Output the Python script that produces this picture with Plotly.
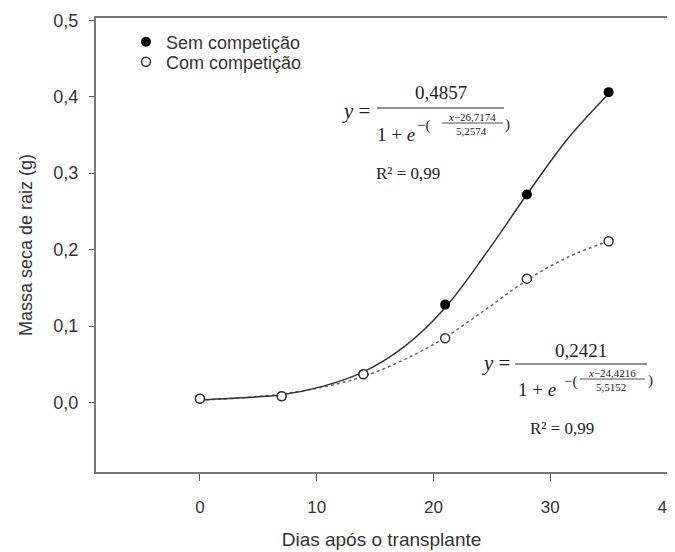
import plotly.graph_objects as go

# observed points (days after transplant, root dry mass g)
dias = [0, 7, 14, 21, 28, 35]
sem_comp = [0.005, 0.008, 0.037, 0.128, 0.272, 0.406]
com_comp = [0.005, 0.008, 0.037, 0.084, 0.162, 0.211]

# fitted curves
curva_x = [0, 3.5, 7, 10.5, 14, 17.5, 21, 24.5, 28, 31.5, 35]
curva_sem = [0.003, 0.006, 0.010, 0.021, 0.040, 0.073, 0.124, 0.195, 0.272, 0.345, 0.404]
curva_com = [0.003, 0.006, 0.011, 0.020, 0.034, 0.056, 0.085, 0.122, 0.160, 0.190, 0.211]

x_ticks = [0, 10, 20, 30, 40]
y_ticks = [0, 0.1, 0.2, 0.3, 0.4, 0.5]

# page has an 8px body margin, so the figure is drawn 8px smaller
OFF = 8
W, H = 675 - OFF, 552 - OFF
L, R, T, B = 96, 667, 18, 472   # plot area in page pixels


def px(x):
    return (x - L) / (R - L)


def py(y):
    return (B - y) / (B - T)


fig = go.Figure()

fig.add_trace(go.Scatter(x=curva_x, y=curva_com, mode="lines", line_shape="spline",
                         line=dict(color="#666", width=1.5, dash="dot"), showlegend=False))
fig.add_trace(go.Scatter(x=curva_x, y=curva_sem, mode="lines", line_shape="spline",
                         line=dict(color="#333", width=1.5), showlegend=False))
fig.add_trace(go.Scatter(x=dias, y=sem_comp, mode="markers", name="Sem competição",
                         marker=dict(color="black", size=10), legend="legend"))
fig.add_trace(go.Scatter(x=dias, y=com_comp, mode="markers", name="Com competição",
                         marker=dict(color="white", size=9, line=dict(color="#333", width=1.5)),
                         legend="legend2"))

serif = "Liberation Serif"
ann = []
shapes = []


def equacao(p, num, sub_num, sub_den, r2, r2_pos):
    # p: pixel positions of each piece of the equation
    ann.append(dict(x=px(p["y"][0]), y=py(p["y"][1]), text="<i>y</i> =", font=dict(size=21, family=serif)))
    ann.append(dict(x=px(p["num"][0]), y=py(p["num"][1]), text=num, font=dict(size=19, family=serif)))
    shapes.append(dict(type="line", xref="paper", yref="paper", x0=px(p["bar"][0]), x1=px(p["bar"][1]),
                       y0=py(p["bar"][2]), y1=py(p["bar"][2]), line=dict(color="#222", width=1.2)))
    ann.append(dict(x=px(p["den"][0]), y=py(p["den"][1]), text="1 + <i>e</i>", font=dict(size=19, family=serif)))
    ann.append(dict(x=px(p["par"][0]), y=py(p["par"][1]), text="−(", font=dict(size=15, family=serif)))
    ann.append(dict(x=px(p["snum"][0]), y=py(p["snum"][1]), text=sub_num, font=dict(size=11, family=serif)))
    shapes.append(dict(type="line", xref="paper", yref="paper", x0=px(p["sbar"][0]), x1=px(p["sbar"][1]),
                       y0=py(p["sbar"][2]), y1=py(p["sbar"][2]), line=dict(color="#222", width=0.8)))
    ann.append(dict(x=px(p["sden"][0]), y=py(p["sden"][1]), text=sub_den, font=dict(size=11, family=serif)))
    ann.append(dict(x=px(p["cpar"][0]), y=py(p["cpar"][1]), text=")", font=dict(size=15, family=serif)))
    ann.append(dict(x=px(r2_pos[0]), y=py(r2_pos[1]), text=r2, font=dict(size=17, family=serif)))


equacao(dict(y=(356, 111), num=(441, 93), bar=(377, 504, 108), den=(396, 134), par=(424, 125),
             snum=(472, 117), sbar=(442, 503, 123), sden=(471, 131), cpar=(507, 124)),
        "0,4857", "<i>x</i>−26,7174", "5,2574", "R² = 0,99", (408, 173))

equacao(dict(y=(496, 363), num=(581, 350), bar=(515, 647, 364), den=(537, 389), par=(570, 381),
             snum=(612, 373), sbar=(580, 645, 379), sden=(611, 387), cpar=(650, 380)),
        "0,2421", "<i>x</i>−24,4216", "5,5152", "R² = 0,99", (562, 428))

for a in ann:
    a.update(xref="paper", yref="paper", showarrow=False, xanchor="center", yanchor="middle")
    a["font"]["color"] = "#222"

axis_common = dict(showline=True, linecolor="#777", linewidth=2, mirror=True, showgrid=False,
                   zeroline=False, ticks="outside", tickcolor="#555", automargin=False,
                   ticklabeloverflow="allow")

legend_common = dict(xanchor="left", yanchor="middle", bgcolor="rgba(0,0,0,0)",
                     font=dict(size=18, color="#333"), itemwidth=30)

fig.update_layout(
    width=W, height=H,
    margin=dict(l=L - OFF, r=W - (R - OFF), t=T - OFF, b=H - (B - OFF)),
    plot_bgcolor="white", paper_bgcolor="white",
    separators=", ",
    font=dict(family="Liberation Sans", color="#333"),
    xaxis=dict(range=[-8.9, 40], tickvals=x_ticks, ticklen=7, ticklabelstandoff=12,
               tickfont=dict(family="Liberation Sans", size=17, color="#333"),
               title=dict(text="Dias após o transplante", font=dict(size=19), standoff=16),
               **axis_common),
    yaxis=dict(range=[-0.091, 0.503], tickvals=y_ticks, tickformat=".1f", ticklen=5,
               ticklabelstandoff=7,
               tickfont=dict(family="Liberation Sans", size=18, color="#333"),
               title=dict(text="Massa seca de raiz (g)", font=dict(size=18), standoff=16),
               **axis_common),
    legend=dict(x=px(126), y=py(42), **legend_common),
    legend2=dict(x=px(126), y=py(62), **legend_common),
    annotations=ann,
    shapes=shapes,
)

fig.write_html("out.html")
